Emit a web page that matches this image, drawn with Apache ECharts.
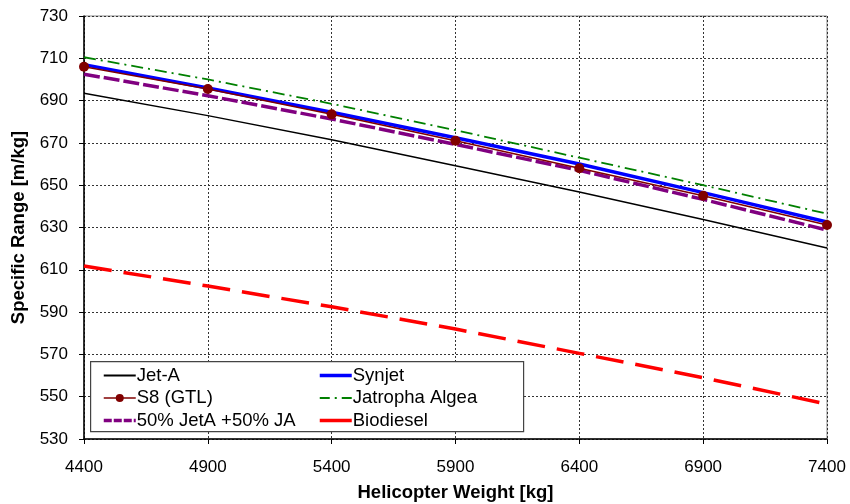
<!DOCTYPE html>
<html>
<head>
<meta charset="utf-8">
<script src="https://cdn.jsdelivr.net/npm/echarts@6/dist/echarts.min.js"></script>
<style>
  html, body { margin: 0; padding: 0; background: #fff; }
  #chart { width: 850px; height: 504px; }
</style>
</head>
<body>
<div id="chart"></div>
<script>
  // helicopter weight [kg]
  const weights = [4400, 4900, 5400, 5900, 6400, 6900, 7400]
  // specific range [m/kg]
  const jetA = [693.5, 682.9, 671.5, 659.2, 646.8, 633.8, 620.3]
  const synjet = [707, 696, 684.5, 672.4, 660, 646.5, 632.6]
  const s8 = [706, 695.5, 683.5, 671, 658, 645, 631.2]
  const jatropha = [710.5, 700, 688.5, 676, 663, 650, 636.5]
  const blend = [702.5, 692.3, 681.3, 669.3, 657, 643.3, 628.8]
  const biodiesel = [611.8, 602.3, 592.5, 582, 570.5, 559, 546.5]

  const pairs = arr => weights.map((w, i) => [w, arr[i]])
  const font = 'Liberation Sans, Arial, sans-serif'

  const chart = echarts.init(document.getElementById('chart'))

  // legend entry: line sample only, no marker
  const lineItem = (name, color, width, type) => ({
    name,
    itemStyle: { opacity: 0 },
    lineStyle: { color, width, type: type || 'solid' }
  })

  const legendCommon = {
    orient: 'vertical',
    top: 361,
    itemGap: 3.5,
    itemWidth: 32,
    itemHeight: 10,
    textStyle: { fontSize: 18.5, color: '#000', fontFamily: font, padding: [0, 0, 0, -4] },
    z: 60
  }

  const option = {
    animation: false,
    backgroundColor: '#fff',
    textStyle: { fontFamily: font },
    grid: {
      left: 84, right: 23, top: 16, bottom: 65,
      containLabel: false, outerBoundsMode: 'none',
      show: true, borderColor: '#888', borderWidth: 1
    },
    xAxis: {
      type: 'value',
      min: 4400,
      max: 7400,
      interval: 500,
      name: 'Helicopter Weight [kg]',
      nameLocation: 'middle',
      nameGap: 44,
      nameTextStyle: { fontSize: 18.5, fontWeight: 'bold', color: '#000', fontFamily: font },
      axisLine: { show: true, lineStyle: { color: '#000', width: 1.5 } },
      axisTick: { show: true, length: 5, lineStyle: { color: '#000' } },
      axisLabel: { fontSize: 17, color: '#000', margin: 20, fontFamily: font, formatter: v => String(v) },
      splitLine: { show: true, lineStyle: { color: '#333', type: [2, 2], width: 1 } }
    },
    yAxis: {
      type: 'value',
      min: 530,
      max: 730,
      interval: 20,
      name: 'Specific Range [m/kg]',
      nameLocation: 'middle',
      nameGap: 54,
      nameTextStyle: { fontSize: 18.5, fontWeight: 'bold', color: '#000', fontFamily: font },
      axisLine: { show: true, lineStyle: { color: '#000', width: 1.5 } },
      axisTick: { show: true, length: 5, lineStyle: { color: '#000' } },
      axisLabel: { fontSize: 17, color: '#000', margin: 16, fontFamily: font },
      splitLine: { show: true, lineStyle: { color: '#333', type: [2, 2], width: 1 } }
    },
    graphic: [
      {
        type: 'rect',
        left: 90,
        top: 361,
        shape: { width: 433, height: 70 },
        style: { fill: '#fff', stroke: '#444', lineWidth: 1.2 },
        z: 50
      }
    ],
    legend: [
      Object.assign({}, legendCommon, {
        left: 97,
        data: [
          lineItem('Jet-A', '#000', 2),
          { name: 'S8 (GTL)', lineStyle: { color: '#800000', width: 1.5 } },
          lineItem('50% JetA +50% JA', '#800080', 3.5, [8, 2])
        ]
      }),
      Object.assign({}, legendCommon, {
        left: 313,
        data: [
          lineItem('Synjet', '#0000ff', 3.5),
          lineItem('Jatropha Algea', '#008000', 1.8, [10, 5, 2, 5]),
          lineItem('Biodiesel', '#ff0000', 3.5)
        ]
      })
    ],
    series: [
      {
        name: 'Jet-A', type: 'line', data: pairs(jetA), symbol: 'none',
        lineStyle: { color: '#000', width: 1.5 }, itemStyle: { color: '#000' }, z: 3
      },
      {
        name: 'Biodiesel', type: 'line', data: pairs(biodiesel), symbol: 'none',
        lineStyle: { color: '#ff0000', width: 3.5, type: [28, 12] }, itemStyle: { color: '#ff0000' }, z: 3
      },
      {
        name: '50% JetA +50% JA', type: 'line', data: pairs(blend), symbol: 'none',
        lineStyle: { color: '#800080', width: 3.5, type: [16, 4] }, itemStyle: { color: '#800080' }, z: 4
      },
      {
        name: 'S8 (GTL)', type: 'line', data: pairs(s8), symbol: 'circle', symbolSize: 10,
        lineStyle: { color: '#800000', width: 1.5 }, itemStyle: { color: '#800000' }, z: 6
      },
      {
        name: 'Synjet', type: 'line', data: pairs(synjet), symbol: 'none',
        lineStyle: { color: '#0000ff', width: 3.5 }, itemStyle: { color: '#0000ff' }, z: 5
      },
      {
        name: 'Jatropha Algea', type: 'line', data: pairs(jatropha), symbol: 'none',
        lineStyle: { color: '#008000', width: 1.8, type: [12, 5, 2, 5] }, itemStyle: { color: '#008000' }, z: 4
      }
    ]
  }
  chart.setOption(option)
</script>
</body>
</html>
